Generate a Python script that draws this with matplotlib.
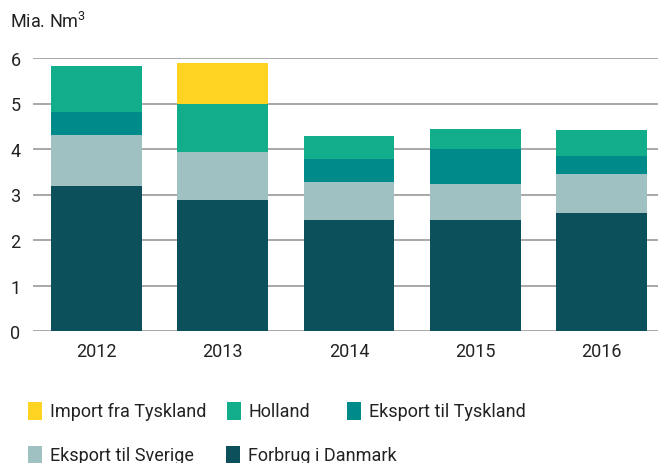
import matplotlib
matplotlib.use('Agg')
import matplotlib.pyplot as plt
import numpy as np
from matplotlib.patches import Rectangle

plt.rcParams['font.family'] = 'Roboto'
plt.rcParams['mathtext.default'] = 'regular'

# Mia. Nm3
years = ['2012', '2013', '2014', '2015', '2016']
forbrug_dk = [3.18, 2.89, 2.43, 2.43, 2.59]
eksport_se = [1.12, 1.04, 0.84, 0.79, 0.87]
eksport_de = [0.52, 0.00, 0.52, 0.77, 0.38]
holland = [1.01, 1.05, 0.49, 0.44, 0.57]
import_de = [0.00, 0.92, 0.00, 0.00, 0.00]

series = [
    ('Forbrug i Danmark', forbrug_dk, '#0c505c'),
    ('Eksport til Sverige', eksport_se, '#a0c1c1'),
    ('Eksport til Tyskland', eksport_de, '#008a89'),
    ('Holland', holland, '#12ae8c'),
    ('Import fra Tyskland', import_de, '#ffd322'),
]

TXT = '#222222'
W, H = 658, 464
fig = plt.figure(figsize=(W / 100, H / 100), dpi=100)
ax = fig.add_axes([33 / W, 1 - 332 / H, 1 - 33 / W, (332 - 59) / H])

x = np.arange(len(years))
bottom = np.zeros(len(years))
for name, vals, col in series:
    vals = np.array(vals)
    ax.bar(x, vals, width=0.72, bottom=bottom, color=col, zorder=3, linewidth=0)
    bottom += vals

ax.set_ylim(0, 6)
ax.set_xlim(-0.503, 4.447)
ax.set_yticks(range(7))
ax.set_xticks(x)
ax.set_xticklabels(years)
ax.yaxis.grid(True, color='#9a9a9a', linewidth=1.2, zorder=0)
ax.set_axisbelow(True)
for s in ax.spines.values():
    s.set_visible(False)
ax.tick_params(axis='both', length=0, labelsize=13, colors=TXT)
ax.tick_params(axis='y', pad=9)
ax.tick_params(axis='x', pad=8)

fig.text(10 / W, 1 - 22 / H, 'Mia. Nm$^{3}$', fontsize=13, color=TXT, va='center', ha='left')

# legend laid out like the reference: fixed column starts, two rows
legend_items = [
    ('Import fra Tyskland', '#ffd322', 28, 412),
    ('Holland', '#12ae8c', 227, 412),
    ('Eksport til Tyskland', '#008a89', 347, 412),
    ('Eksport til Sverige', '#a0c1c1', 28, 456),
    ('Forbrug i Danmark', '#0c505c', 226, 456),
]
for label, col, px, py in legend_items:
    fig.add_artist(Rectangle((px / W, 1 - (py + 9) / H), 14 / W, 18 / H,
                             transform=fig.transFigure, color=col, linewidth=0))
    fig.text((px + 22) / W, 1 - py / H, label, fontsize=13, color=TXT,
             va='center', ha='left')

fig.savefig('out.png', dpi=100)
